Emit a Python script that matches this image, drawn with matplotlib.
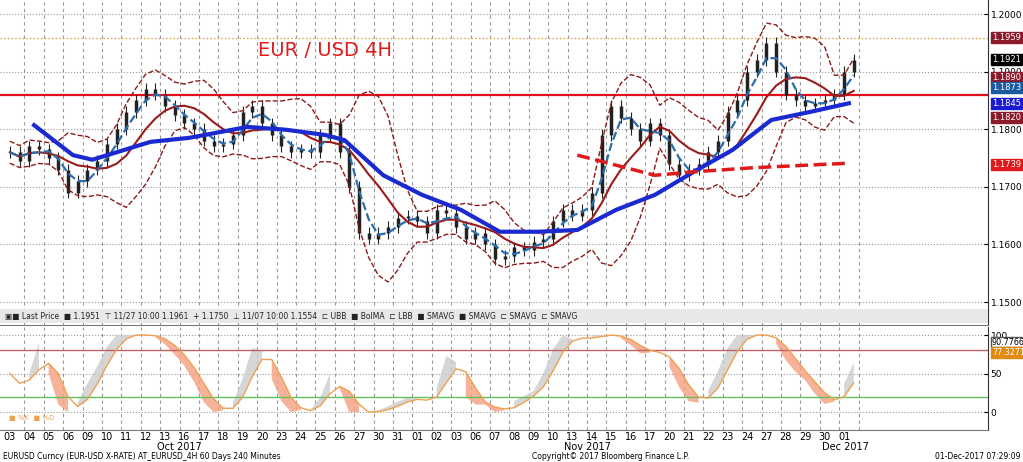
import numpy as np, pandas as pd
import matplotlib
matplotlib.use("Agg")
import matplotlib.pyplot as plt

days = ["03","04","05","06","09","10","11","12","13","16","17","18","19","20","23","24","25","26","27","30","31",
        "01","02","03","06","07","08","09","10","13","14","15","16","17","20","21","22","23","24","27","28","29","30","01"]
# half-day closes (2 per trading day)
closes = [1.1760,1.1745, 1.1770,1.1765, 1.1750,1.1730, 1.1690,1.1710, 1.1730,1.1745, 1.1775,1.1800,
          1.1830,1.1850, 1.1870,1.1860, 1.1840,1.1825, 1.1810,1.1800, 1.1780,1.1770, 1.1775,1.1790,
          1.1830,1.1840, 1.1810,1.1790, 1.1770,1.1760, 1.1765,1.1760, 1.1790,1.1810, 1.1760,1.1700,
          1.1620,1.1610, 1.1620,1.1630, 1.1645,1.1650, 1.1640,1.1620, 1.1660,1.1655, 1.1630,1.1610,
          1.1620,1.1600, 1.1575,1.1580, 1.1595,1.1590, 1.1605,1.1610, 1.1640,1.1660, 1.1650,1.1660,
          1.1690,1.1790, 1.1840,1.1820, 1.1800,1.1780, 1.1810,1.1790, 1.1740,1.1720, 1.1730,1.1740,
          1.1760,1.1780, 1.1830,1.1850, 1.1900,1.1920, 1.1950,1.1900, 1.1860,1.1850, 1.1840,1.1845,
          1.1850,1.1860, 1.1900,1.1921]
sma_long_idx = [1,3,4,7,9,12,14,16,17,19,21,23,25,27,29,31,33,35,37,39,41,43]
sma_long = [1.1807,1.1755,1.1747,1.1778,1.1785,1.1804,1.1799,1.1790,1.1781,1.1720,1.1686,1.1660,1.1622,1.1622,1.1625,1.1660,1.1686,1.1726,1.1764,1.1816,1.1830,1.1845]
sma200_idx = [29,33,35,38,43]
sma200 = [1.1755,1.1720,1.1726,1.1733,1.1741]
resist = 1.1859
high_line = 1.1959

X0, DX = 5, 19.4
c = pd.Series(closes)
n = len(c)
x = np.arange(n)/2.0 + 0.25
opens = np.r_[c.iloc[0], c.values[:-1]]
hi = np.maximum(opens, c.values) + 0.0010
lo = np.minimum(opens, c.values) - 0.0010
ma = c.rolling(7, min_periods=1).mean()
sd = c.rolling(7, min_periods=2).std().bfill()
ub, lb = ma + 1.8*sd, ma - 1.8*sd
sma_s = c.rolling(3, min_periods=1).mean()

fig = plt.figure(figsize=(10.23,4.62), dpi=100)
ax = fig.add_axes([0, 1-325/462, 988/1023, 325/462])
ax2 = fig.add_axes([0, 1-430/462, 988/1023, 103/462])
xmin, xmax = -X0/DX, (988-X0)/DX
for a in (ax, ax2):
    a.set_xlim(xmin, xmax)
    for i in range(1, 45):
        a.axvline(i, color="#999999", ls=(0,(3,3)), lw=0.8, zorder=0)
    a.yaxis.tick_right()
    a.tick_params(axis="y", direction="in", labelsize=6.5, length=3, pad=2)
    a.set_xticks([])
    for s in ("top","left"):
        a.spines[s].set_visible(False)
    a.spines["bottom"].set_color("#777777"); a.spines["right"].set_color("#333333")

ax.set_ylim(1.2 - 311/5760, 1.2 + 14/5760)
ax.set_yticks([1.15,1.16,1.17,1.18,1.19,1.20])
ax.set_yticklabels(["1.1500","1.1600","1.1700","1.1800","1.1900","1.2000"])
for v in [1.15,1.16,1.17,1.18,1.19,1.20]:
    ax.axhline(v, color="#999999", ls=":", lw=0.8, zorder=0)
ax.axhline(high_line, color="#e0a040", ls=":", lw=1)
ax.axhline(resist, color="#e0101a", lw=1.6)
for i in range(n):
    ax.vlines(x[i], lo[i], hi[i], color="#222222", lw=0.8)
    ax.vlines(x[i], min(opens[i],c[i]), max(opens[i],c[i]), color="#222222", lw=2.5)
ax.plot(x, ub, color="#8b1a1a", ls="--", lw=1)
ax.plot(x, lb, color="#8b1a1a", ls="--", lw=1)
ax.plot(x, ma, color="#9b1b1b", lw=1.5)
ax.plot(x, sma_s, color="#2a6db0", ls="--", lw=1.6)
ax.plot(np.array(sma_long_idx)+0.5, sma_long, color="#1a2ad0", lw=3)
ax.plot(np.array(sma200_idx)+0.5, sma200, color="#e01a1a", ls="--", lw=2.5)
ax.text(258/DX - X0/DX, 1.2-(50-14)/5760, "EUR / USD 4H", color="#e01a1a", fontsize=14, va="center")

labs = [(1.1959,"1.1959","#8b1a2a"),(1.1921,"1.1921","black"),(1.1890,"1.1890","#8b1a2a"),
        (1.1873,"1.1873","#1a5aa0"),(1.1845,"1.1845","#1a1ad0"),(1.1820,"1.1820","#8b1a2a"),(1.1739,"1.1739","#e01a1a")]
for v,t,col in labs:
    ax.text(1.004, v, t, transform=ax.get_yaxis_transform(), color="white", fontsize=6, va="center",
            bbox=dict(boxstyle="square,pad=0.12", fc=col, ec=col), clip_on=False)

fig.patches.append(plt.Rectangle((0, 1-323/462), 988/1023, 14/462, transform=fig.transFigure, fc="#e8e8e8", ec="none"))
fig.text(0.005, 1-316/462, "▣■ Last Price  ■ 1.1951  ⊤ 11/27 10:00 1.1961  + 1.1750  ⊥ 11/07 10:00 1.1554  ⊏ UBB  ■ BolMA  ⊏ LBB  ■ SMAVG  ■ SMAVG  ⊏ SMAVG  ⊏ SMAVG",
         fontsize=5.5, va="center", color="#222222")

low_n = c.rolling(10, min_periods=1).min(); high_n = c.rolling(10, min_periods=1).max()
k = (100*(c-low_n)/(high_n-low_n).replace(0,np.nan)).fillna(50).rolling(2,min_periods=1).mean()
d = k.rolling(3, min_periods=1).mean()
ax2.set_ylim(-23, 110.4)
ax2.set_yticks([0,50,100])
for v in [0,50,100]:
    ax2.axhline(v, color="#999999", ls=":", lw=0.8, zorder=0)
ax2.axhline(80, color="#c06060", lw=1)
ax2.axhline(20, color="#60c060", lw=1)
ax2.fill_between(x, k, d, where=k>=d, color="#cccccc", alpha=0.8, lw=0)
ax2.fill_between(x, k, d, where=k<d, color="#f5a080", alpha=0.8, lw=0)
ax2.plot(x, d, color="#f0a050", lw=1)
ax2.text(1.004, 90.78, "90.7766", transform=ax2.get_yaxis_transform(), fontsize=5.8, va="center",
         bbox=dict(boxstyle="square,pad=0.08", fc="white", ec="#555555"), clip_on=False)
ax2.text(1.004, 77.33, "77.3271", transform=ax2.get_yaxis_transform(), fontsize=5.8, va="center", color="white",
         bbox=dict(boxstyle="square,pad=0.08", fc="#e08a10", ec="#e08a10"), clip_on=False)
ax2.text(0.2, -10, "■ %K  ■ %D", fontsize=5, color="#f0a050")

for i, dlab in enumerate(days):
    ax2.text(i+0.5-0.25, -32, dlab, fontsize=7, ha="center", va="center", clip_on=False)
ax2.text(9.0, -45, "Oct 2017", fontsize=7, ha="center", va="center")
ax2.text(30.0, -45, "Nov 2017", fontsize=7, ha="center", va="center")
ax2.text(43.3, -45, "Dec 2017", fontsize=7, ha="center", va="center")
fig.text(0.003, 0.012, "EURUSD Curncy (EUR-USD X-RATE) AT_EURUSD_4H 60 Days 240 Minutes", fontsize=5.5, va="center")
fig.text(0.52, 0.012, "Copyright© 2017 Bloomberg Finance L.P.", fontsize=5.5, va="center")
fig.text(0.998, 0.012, "01-Dec-2017 07:29:09", fontsize=5.5, ha="right", va="center")
fig.savefig("out.png", dpi=100)
